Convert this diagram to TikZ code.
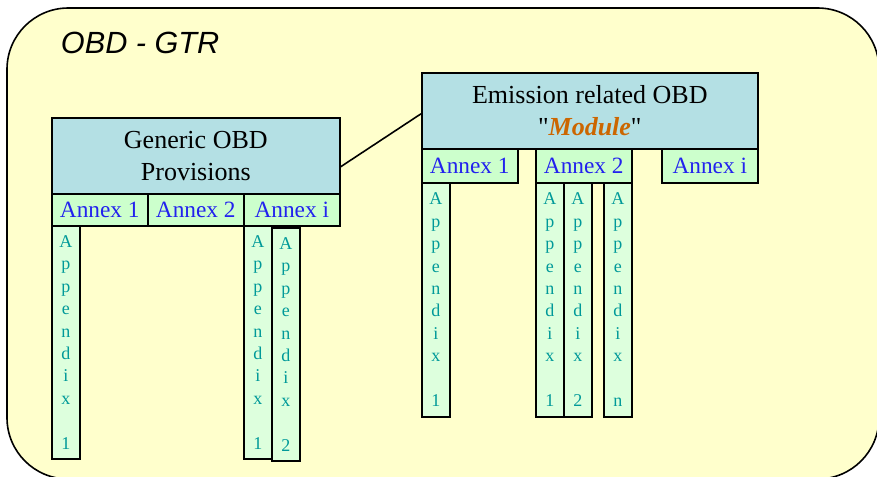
\documentclass[tikz,border=0pt]{standalone}
\usepackage{fontspec}
\setmainfont{Liberation Serif}[Ligatures=TeXOff]
\newfontfamily\gtrfont{Liberation Sans}

\definecolor{frameyellow}{RGB}{255,255,204}
\definecolor{hdrblue}{RGB}{180,224,228}
\definecolor{annexgreen}{RGB}{204,255,204}
\definecolor{appgreen}{RGB}{221,255,221}
\definecolor{annexblue}{RGB}{34,34,238}
\definecolor{appteal}{RGB}{0,153,153}
\definecolor{moduleorange}{RGB}{204,102,0}

\newcommand{\apptext}[1]{A\\p\\p\\e\\n\\d\\i\\x\\[16.8pt]#1}

\tikzset{every picture/.style={line width=0.75pt}}
\tikzset{
	hdrbox/.style={draw, line width=1.2pt, fill=hdrblue, inner sep=0pt, anchor=north west,
		minimum width=216pt, minimum height=57pt, align=center,
		font=\fontsize{19.5}{24}\selectfont},
	annexbox/.style={draw, line width=1.2pt, fill=annexgreen, inner sep=0pt, anchor=north west,
		minimum width=72pt, text=annexblue, font=\fontsize{17.5}{20}\selectfont},
	appbox/.style={draw, line width=1.2pt, fill=appgreen, inner sep=0pt, anchor=north west,
		minimum width=21pt, text=appteal, align=center,
		font=\fontsize{13.5}{16.8}\selectfont}
}

\begin{document}
\begin{tikzpicture}[x=0.75pt,y=0.75pt,yscale=-1,xscale=1]
	\useasboundingbox (0,0) rectangle (877,476);

	%Shape: Rounded Rect [id:frame] 
	\draw [line width=1.2pt, fill=frameyellow, rounded corners=46pt] (7,8) rectangle (879,479);
	% Text Node
	\node (title) [anchor=base west, font=\gtrfont\itshape\fontsize{23}{28}\selectfont] at (56,53) {OBD - GTR};

	%Shape: Rectangle [id:generic] 
	\node (gen) [hdrbox] at (51,117) {Generic OBD\\Provisions};
	\node (gena1) [annexbox, minimum height=24pt] at (51,193) {Annex 1};
	\node (gena2) [annexbox, minimum height=24pt] at (147,193) {Annex 2};
	\node (genai) [annexbox, minimum height=24pt] at (243,193) {Annex i};
	% appendices below generic provisions
	\node (genp11) [appbox, minimum height=174.75pt] at (51,225) {\apptext{1}};
	\node (genpi1) [appbox, minimum height=174.75pt] at (243,225) {\apptext{1}};
	\node (genpi2) [appbox, minimum height=174.75pt] at (271,227) {\apptext{2}};

	%Shape: Rectangle [id:emission] 
	\node (emi) [hdrbox, minimum width=252pt] at (421,72) {Emission related OBD\\"\textcolor{moduleorange}{\textbf{\textit{Module}}}"};
	\node (emia1) [annexbox, minimum height=25.5pt] at (421,148) {Annex 1};
	\node (emia2) [annexbox, minimum height=25.5pt] at (535,148) {Annex 2};
	\node (emiai) [annexbox, minimum height=25.5pt] at (661,148) {Annex i};
	% appendices below the module
	\node (emip11) [appbox, minimum height=175.5pt] at (421,182) {\apptext{1}};
	\node (emip21) [appbox, minimum height=175.5pt] at (535,182) {\apptext{1}};
	\node (emip22) [appbox, minimum height=175.5pt] at (563,182) {\apptext{2}};
	\node (emip2n) [appbox, minimum height=175.5pt] at (603,182) {\apptext{n}};

	%Straight Lines [id:link] 
	\draw [line width=1.2pt] ([yshift=8.25pt]gen.east) -- ([yshift=2.25pt]emi.west);

\end{tikzpicture}
\end{document}
